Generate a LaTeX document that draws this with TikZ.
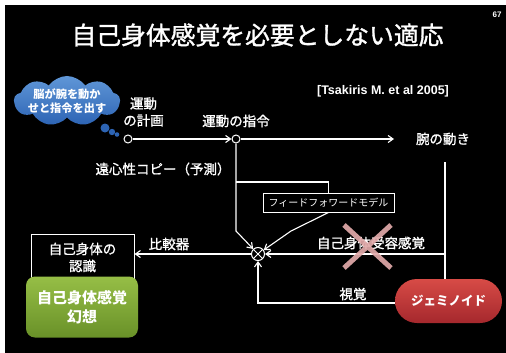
\documentclass[tikz,border=0pt]{standalone}
\usepackage{fontspec}
\setmainfont{Noto Sans CJK JP}
\newfontfamily\jpmed[FakeBold=1.3]{Noto Sans CJK JP}
\newfontfamily\arialf{Liberation Sans}
\usetikzlibrary{arrows.meta,shapes.symbols,calc}
\definecolor{cloudtop}{RGB}{95,150,215}
\definecolor{cloudbot}{RGB}{45,100,180}
\definecolor{grtop}{RGB}{150,190,70}
\definecolor{grbot}{RGB}{105,145,40}
\definecolor{rdtop}{RGB}{215,75,70}
\definecolor{rdbot}{RGB}{165,40,45}
\definecolor{crosspink}{RGB}{225,170,170}
\tikzset{
  wline/.style={draw=white, line width=1.1pt},
  warrow/.style={wline, -{Straight Barb[length=5pt,width=7pt,line width=1.1pt]}},
  lbl/.style={text=white, font=\jpmed\fontsize{13.5}{15}\selectfont, inner sep=0pt},
  dotc/.style={circle, draw=white, fill=black, line width=1pt, minimum size=8pt, inner sep=0pt},
}
\begin{document}
\begin{tikzpicture}[x=1pt,y=-1pt]
\useasboundingbox (0,0) rectangle (506,353);
\fill[white] (0,0) rectangle (506,353);
\fill[black] (5,5) rectangle (506,353);

% title and page number
\node[text=white, font=\jpmed\fontsize{24.8}{27}\selectfont, inner sep=0pt] (title) at (257.5,35) {自己身体感覚を必要としない適応};
\node[text=white, font=\arialf\bfseries\fontsize{8}{9}\selectfont, inner sep=0pt] (pnum) at (497,15) {67};
\node[text=white, font=\arialf\bfseries\fontsize{12.5}{14}\selectfont, inner sep=0pt] (cite) at (383,91) {[Tsakiris M. et al 2005]};

% cloud
\node[cloud, cloud puffs=9, cloud puff arc=110, aspect=2.2, top color=cloudtop, bottom color=cloudbot, draw=none,
      minimum width=106pt, minimum height=50pt, inner sep=0pt] (cloud) at (67,101) {};
\node[text=white, font=\bfseries\fontsize{11.2}{14}\selectfont, align=center, inner sep=0pt] (cloudtxt) at (67,101) {脳が腕を動か\\せと指令を出す};
\fill[cloudbot] (105,128) circle (4.5pt);
\fill[cloudbot] (112,132) circle (3.2pt);
\fill[cloudbot] (117,134.5) circle (2.3pt);

% motor planning
\node[lbl, align=center] (plan) at (143.5,112) {運動\\[2pt]の計画};
\node[dotc] (c1) at (128,139) {};
\node[dotc] (c2) at (236,139) {};
\node[lbl] (cmd) at (236,121) {運動の指令};
\coordinate (armend) at (394,139);
\node[lbl] (arm) at (443,139) {腕の動き};
\draw[warrow] (c1) -- (c2);
\draw[warrow] (c2) -- (armend);

% efference copy
\node[lbl] (eff) at (163,169) {遠心性コピー（予測）};

% comparator
\node[circle, draw=white, fill=black, line width=1pt, minimum size=13pt, inner sep=0pt,
      path picture={\draw[white, line width=0.8pt] (path picture bounding box.north west) -- (path picture bounding box.south east)
                    (path picture bounding box.north east) -- (path picture bounding box.south west);}] (comp) at (258,254) {};

% feedforward model
\node[draw=white, line width=1pt, minimum width=131pt, minimum height=19pt, inner sep=0pt,
      text=white, font=\fontsize{10}{11}\selectfont] (ff) at (328.5,202.5) {フィードフォワードモデル};

\coordinate (j1) at (236,182);
\coordinate (k1) at (236,231);
\coordinate (k2) at (291,231);
\draw[warrow] (c2) -- (k1) -- (comp);
\draw[wline] (j1) -- (j1 -| ff.north) -- (ff.north);
\draw[warrow] (ff.south) -- (k2) -- (comp);

% geminoid
\node[rounded corners=22pt, top color=rdtop, bottom color=rdbot, minimum width=107pt, minimum height=44pt,
      text=white, font=\bfseries\fontsize{12.5}{14}\selectfont, inner sep=0pt] (jem) at (448.5,301) {ジェミノイド};
\coordinate (armv) at (445,162);
\coordinate (j2) at (445,254);
\draw[wline] (armv) -- (armv |- jem.north);
\draw[warrow] (j2) -- (comp);
\node[lbl] (prop) at (371,243) {自己身体受容感覚};
\coordinate (k3) at (258,303);
\draw[warrow] (jem.west |- k3) -- (k3) -- (comp);
\node[lbl] (vis) at (353,294) {視覚};

% recognition box
\node[draw=white, line width=1pt, minimum width=103pt, minimum height=44pt, inner sep=0pt] (recog) at (82.5,256.5) {};
\node[lbl, align=center] (recogtxt) at (82.5,257.5) {自己身体の\\[2pt]認識};
\draw[warrow] (comp) -- (comp -| recog.east);
\node[lbl] (cmp) at (169,244) {比較器};

% illusion box
\node[rounded corners=9pt, top color=grtop, bottom color=grbot, minimum width=112pt, minimum height=61pt,
      text=white, font=\bfseries\fontsize{15}{19}\selectfont, align=center, inner sep=0pt] (illu) at (82,307) {自己身体感覚\\幻想};

% cross mark
\draw[crosspink, opacity=0.92, line width=5pt] (344,225) -- (391,268) (391,225) -- (344,268);
\end{tikzpicture}
\end{document}
